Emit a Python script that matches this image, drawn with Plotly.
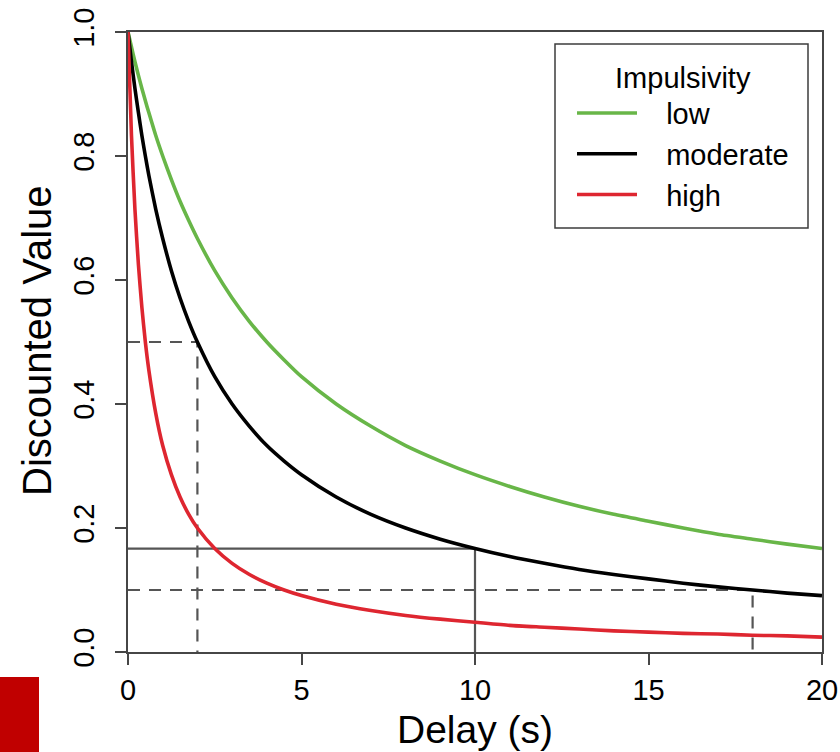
import plotly.graph_objects as go

# ---- data ----
delay = [0, 0.1, 0.2, 0.3, 0.4, 0.5, 0.6, 0.8, 1, 1.25, 1.5, 1.75, 2, 2.5, 3, 3.5,
         4, 4.5, 5, 6, 7, 8, 9, 10, 11, 12, 13, 14, 15, 16, 17, 18, 19, 20]

value_low = [1.0, 0.976, 0.952, 0.930, 0.909, 0.889, 0.870, 0.833, 0.800, 0.762, 0.727,
             0.696, 0.667, 0.615, 0.571, 0.533, 0.500, 0.471, 0.444, 0.400, 0.364,
             0.333, 0.308, 0.286, 0.267, 0.250, 0.235, 0.222, 0.211, 0.200, 0.190,
             0.182, 0.174, 0.167]

value_moderate = [1.0, 0.952, 0.909, 0.870, 0.833, 0.800, 0.769, 0.714, 0.667, 0.615,
                  0.571, 0.533, 0.500, 0.444, 0.400, 0.364, 0.333, 0.308, 0.286, 0.250,
                  0.222, 0.200, 0.182, 0.167, 0.154, 0.143, 0.133, 0.125, 0.118, 0.111,
                  0.105, 0.100, 0.095, 0.091]

value_high = [1.0, 0.833, 0.714, 0.625, 0.556, 0.500, 0.455, 0.385, 0.333, 0.286, 0.250,
              0.222, 0.200, 0.167, 0.143, 0.125, 0.111, 0.100, 0.091, 0.077, 0.067,
              0.059, 0.053, 0.048, 0.043, 0.040, 0.037, 0.034, 0.032, 0.030, 0.029,
              0.027, 0.026, 0.024]

# guide lines (dashed: half value at 2 s, value 0.1 at 18 s; solid: 1/6 at 10 s)
guide_dash1_x = [0, 2, 2]
guide_dash1_y = [0.5, 0.5, 0]
guide_dash2_x = [0, 18, 18]
guide_dash2_y = [0.1, 0.1, 0]
guide_solid_x = [0, 10, 10]
guide_solid_y = [0.1667, 0.1667, 0]

series_names = ["low", "moderate", "high"]
x_ticks = [0, 5, 10, 15, 20]
y_ticks = [0.0, 0.2, 0.4, 0.6, 0.8, 1.0]
y_ticklabels = ["0.0", "0.2", "0.4", "0.6", "0.8", "1.0"]

FONT = "Liberation Sans, Arial, sans-serif"
GREEN = "rgb(104,182,72)"
RED = "rgb(222,38,48)"
GUIDE = "rgb(85,85,85)"
AXIS = "rgb(70,70,70)"

fig = go.Figure()

fig.add_trace(go.Scatter(x=guide_dash1_x, y=guide_dash1_y, mode="lines",
                         line=dict(color=GUIDE, width=2.2, dash="12px,9px"),
                         showlegend=False, hoverinfo="skip"))
fig.add_trace(go.Scatter(x=guide_dash2_x, y=guide_dash2_y, mode="lines",
                         line=dict(color=GUIDE, width=2.2, dash="12px,9px"),
                         showlegend=False, hoverinfo="skip"))
fig.add_trace(go.Scatter(x=guide_solid_x, y=guide_solid_y, mode="lines",
                         line=dict(color=GUIDE, width=2.2),
                         showlegend=False, hoverinfo="skip"))

pad = "\u00a0\u00a0\u00a0"
for name, vals, col in zip(series_names, [value_low, value_moderate, value_high],
                           [GREEN, "black", RED]):
    fig.add_trace(go.Scatter(x=delay, y=vals, mode="lines", name=pad + name,
                             line=dict(color=col, width=3.6, shape="spline", smoothing=0.6)))

W, H = 840, 752
L, R, T, B = 128, 18, 32, 100
pw, ph = W - L - R, H - T - B


def px_x(p):
    return (p - L) / pw


def px_y(p):
    return (H - B - p) / ph


fig.update_layout(
    width=W, height=H,
    margin=dict(l=L, r=R, t=T, b=B, pad=0),
    plot_bgcolor="white", paper_bgcolor="white",
    font=dict(family=FONT, size=29, color="black"),
    showlegend=True,
    legend=dict(
        x=px_x(572), y=px_y(50), xanchor="left", yanchor="top",
        borderwidth=0, bgcolor="rgba(0,0,0,0)",
        font=dict(family=FONT, size=29, color="black"),
        title=dict(text="Impulsivity", side="top center",
                   font=dict(family=FONT, size=29, color="black")),
        itemwidth=60, tracegroupgap=0,
    ),
    xaxis=dict(
        range=[0, 20], tickvals=x_ticks, ticks="outside", ticklen=11, tickwidth=1.8,
        tickcolor=AXIS, showline=True, linecolor=AXIS, linewidth=1.8,
        mirror=True, showgrid=False, zeroline=False, automargin=False,
        tickfont=dict(family=FONT, size=29, color="black"),
    ),
    yaxis=dict(
        range=[0, 1], tickvals=y_ticks, ticktext=y_ticklabels, ticks="outside", ticklen=11,
        tickwidth=1.8, tickcolor=AXIS, showline=True, linecolor=AXIS,
        linewidth=1.8, mirror=True, showgrid=False, zeroline=False, tickangle=-90,
        automargin=False, ticklabelstandoff=10,
        tickfont=dict(family=FONT, size=29, color="black"),
    ),
    annotations=[
        dict(text="Delay (s)", x=0.5, y=px_y(729), xref="paper", yref="paper",
             xanchor="center", yanchor="middle", showarrow=False,
             font=dict(family=FONT, size=39, color="black")),
        dict(text="Discounted Value", x=px_x(37), y=px_y(341), xref="paper", yref="paper",
             xanchor="center", yanchor="middle", showarrow=False, textangle=-90,
             font=dict(family=FONT, size=40, color="black")),
    ],
    shapes=[
        dict(type="rect", xref="paper", yref="paper",
             x0=px_x(555), x1=px_x(808), y0=px_y(228), y1=px_y(44),
             line=dict(color="rgb(60,60,60)", width=1.5), layer="above"),
        dict(type="rect", xref="paper", yref="paper",
             x0=px_x(0), x1=px_x(39), y0=px_y(677), y1=px_y(752),
             fillcolor="rgb(192,0,0)", line=dict(width=0), layer="above"),
    ],
)

fig.write_html("out.html",
               config={"displayModeBar": False},
               post_script="document.body.style.margin='0';document.body.style.overflow='hidden';")
